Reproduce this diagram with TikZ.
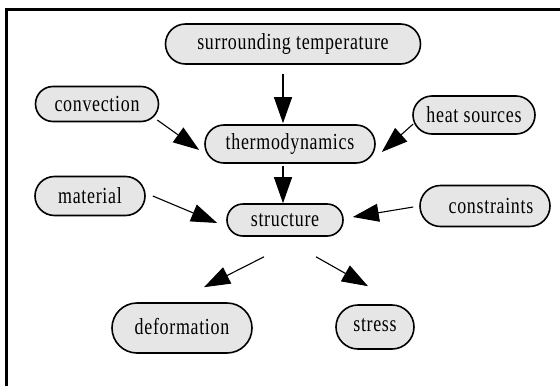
\documentclass[tikz,border=0pt]{standalone}
\usepackage{fontspec}
\setmainfont[FakeStretch=0.78,LetterSpace=3]{Liberation Serif}
\usetikzlibrary{shapes.misc,arrows.meta,calc}
\definecolor{boxfill}{HTML}{E6E6E6}
\begin{document}
\begin{tikzpicture}[x=1pt,y=-1pt,
  box/.style={rounded rectangle, draw=black, line width=1.6pt, fill=boxfill, inner sep=0pt, font=\fontsize{23}{26}\selectfont},
  arr/.style={line width=1.1pt, -{Triangle[length=26pt,width=18pt]}}]
\useasboundingbox (0,0) rectangle (560,386);
\draw[line width=3pt] (6.5,386) -- (6.5,9.5) -- (560,9.5);
\node[box, minimum width=255pt, minimum height=40pt] (surr) at (293,44) {surrounding temperature};
\node[box, minimum width=123pt, minimum height=35pt] (conv) at (97,104) {convection};
\node[box, minimum width=122pt, minimum height=38pt] (heat) at (474,115) {heat sources};
\node[box, minimum width=170pt, minimum height=38pt] (thermo) at (290,144) {thermodynamics};
\node[box, minimum width=110pt, minimum height=39pt] (material) at (90,196) {material\hspace{10pt}};
\node[box, minimum width=116pt, minimum height=32pt] (structure) at (285,220) {structure};
\node[box, minimum width=130pt, minimum height=41pt] (constraints) at (485,206) {\hspace{12pt}constraints};
\node[box, minimum width=140pt, minimum height=50pt] (deformation) at (182,328) {\raisebox{3pt}{deformation}};
\node[box, minimum width=78pt, minimum height=44pt] (stress) at (375,327) {\raisebox{4pt}{stress}\hspace{14pt}};
\draw[arr] ($(surr.south)+(-10,9)$) -- ($(thermo.north)+(-7,-1)$);
\draw[arr] ($(conv.east)+(-2,16)$) -- ($(thermo.west)+(-5,6)$);
\draw[arr] ($(heat.west)+(1,9)$) -- ($(thermo.east)+(6,8)$);
\draw[arr] ($(thermo.south)+(-7,2)$) -- ($(structure.north)+(-2,0)$);
\draw[arr] ($(material.east)+(7,0)$) -- ($(structure.west)+(-9,3)$);
\draw[arr] ($(constraints.west)+(-6,1)$) -- ($(structure.east)+(9,-3)$);
\draw[arr] ($(structure.south)+(-21,20)$) -- ($(deformation.north)+(22,-15)$);
\draw[arr] ($(structure.south)+(31,20)$) -- ($(stress.north)+(-7,-18)$);
\end{tikzpicture}
\end{document}
